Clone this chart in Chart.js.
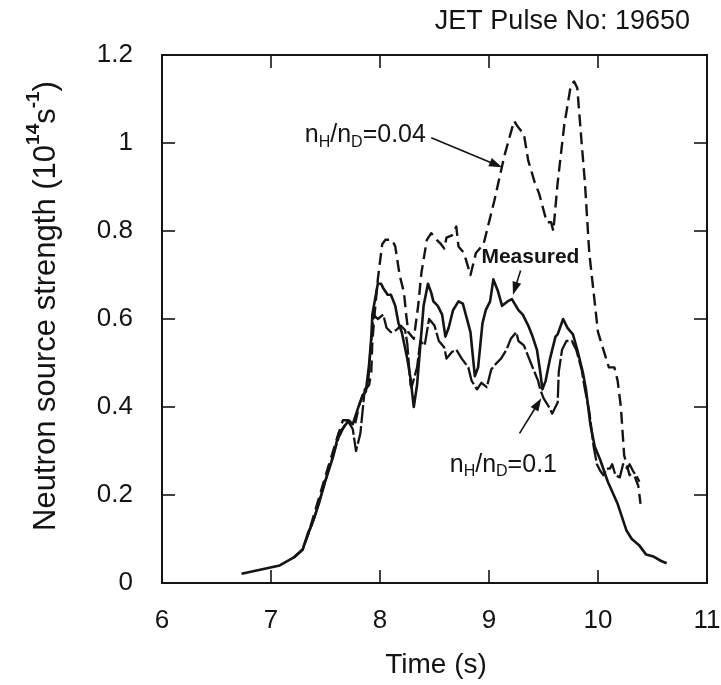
<!DOCTYPE html>
<html>
<head>
<meta charset="utf-8">
<title>JET Pulse No: 19650</title>
<script src="https://cdn.jsdelivr.net/npm/chart.js@4/dist/chart.umd.min.js"></script>
<style>
  html, body { margin: 0; padding: 0; background: #fff; }
  #wrap { width: 721px; height: 685px; position: relative; }
</style>
</head>
<body>
<div id="wrap"><canvas id="neutronChart"></canvas></div>
<script>
// measured neutron yield
const measuredTime = [6.73, 6.90, 7.08, 7.21, 7.29, 7.34, 7.38, 7.44, 7.50, 7.57, 7.62, 7.71, 7.75, 7.81, 7.85, 7.87,
  7.90, 7.92, 7.93, 7.98, 8.01, 8.03, 8.07, 8.10, 8.14, 8.17, 8.20, 8.25, 8.28, 8.31, 8.34, 8.37, 8.40, 8.44,
  8.47, 8.49, 8.53, 8.57, 8.60, 8.63, 8.67, 8.72, 8.76, 8.83, 8.87, 8.90, 8.94, 8.97, 9.01, 9.04, 9.08, 9.12,
  9.17, 9.21, 9.27, 9.31, 9.36, 9.40, 9.44, 9.47, 9.49, 9.52, 9.56, 9.61, 9.63, 9.68, 9.72, 9.77, 9.81, 9.86,
  9.89, 9.93, 9.97, 10.02, 10.09, 10.18, 10.26, 10.31, 10.38, 10.44, 10.51, 10.58, 10.63];
const measuredValue = [0.021, 0.030, 0.040, 0.058, 0.076, 0.114, 0.136, 0.181, 0.233, 0.287, 0.339, 0.368, 0.361, 0.406, 0.43, 0.435,
  0.497, 0.558, 0.61, 0.68, 0.68, 0.67, 0.655, 0.655, 0.63, 0.59, 0.57, 0.51, 0.465, 0.40, 0.45, 0.54, 0.63, 0.68,
  0.66, 0.64, 0.63, 0.61, 0.56, 0.58, 0.62, 0.64, 0.635, 0.57, 0.47, 0.49, 0.59, 0.62, 0.64, 0.69, 0.665, 0.63,
  0.64, 0.645, 0.62, 0.61, 0.585, 0.56, 0.53, 0.48, 0.44, 0.46, 0.51, 0.56, 0.565, 0.60, 0.58, 0.565, 0.53, 0.48,
  0.44, 0.36, 0.31, 0.28, 0.23, 0.18, 0.12, 0.10, 0.085, 0.065, 0.06, 0.05, 0.045];

// simulation nH/nD = 0.1
const ratio01Time = [7.21, 7.29, 7.34, 7.40, 7.46, 7.52, 7.57, 7.62, 7.70, 7.75, 7.78, 7.82, 7.86, 7.89, 7.91, 7.94,
  7.98, 8.03, 8.06, 8.10, 8.15, 8.19, 8.23, 8.25, 8.28, 8.29, 8.34, 8.37, 8.41, 8.45, 8.50, 8.54, 8.59, 8.61,
  8.66, 8.70, 8.75, 8.81, 8.84, 8.89, 8.93, 8.98, 9.02, 9.07, 9.11, 9.16, 9.20, 9.25, 9.27, 9.32, 9.36, 9.40,
  9.45, 9.47, 9.50, 9.55, 9.58, 9.63, 9.64, 9.67, 9.71, 9.76, 9.80, 9.85, 9.88, 9.92, 9.96, 9.99, 10.02, 10.05,
  10.08, 10.11, 10.13, 10.16, 10.20, 10.23, 10.27, 10.29, 10.32, 10.36, 10.38];
const ratio01Value = [0.058, 0.076, 0.11, 0.15, 0.20, 0.25, 0.29, 0.33, 0.37, 0.35, 0.30, 0.34, 0.44, 0.45, 0.52, 0.61,
  0.60, 0.61, 0.58, 0.57, 0.575, 0.585, 0.575, 0.545, 0.45, 0.445, 0.49, 0.55, 0.54, 0.60, 0.585, 0.55, 0.535, 0.51,
  0.525, 0.53, 0.51, 0.49, 0.46, 0.44, 0.455, 0.445, 0.485, 0.50, 0.51, 0.53, 0.555, 0.57, 0.55, 0.54, 0.515, 0.49,
  0.46, 0.44, 0.42, 0.40, 0.385, 0.41, 0.48, 0.53, 0.55, 0.55, 0.53, 0.485, 0.44, 0.39, 0.31, 0.27, 0.255, 0.245,
  0.26, 0.26, 0.27, 0.245, 0.24, 0.27, 0.26, 0.27, 0.255, 0.24, 0.23];

// simulation nH/nD = 0.04
const ratio004Time = [7.21, 7.29, 7.34, 7.40, 7.46, 7.52, 7.57, 7.62, 7.66, 7.71, 7.77, 7.81, 7.85, 7.90, 7.92, 7.93,
  7.95, 7.98, 8.02, 8.05, 8.11, 8.14, 8.18, 8.22, 8.24, 8.26, 8.31, 8.35, 8.38, 8.43, 8.47, 8.52, 8.56, 8.59,
  8.61, 8.66, 8.70, 8.72, 8.77, 8.83, 8.88, 8.95, 9.05, 9.14, 9.23, 9.27, 9.32, 9.36, 9.42, 9.46, 9.53, 9.57,
  9.59, 9.63, 9.69, 9.75, 9.78, 9.81, 9.85, 9.88, 9.92, 9.96, 10.00, 10.10, 10.15, 10.18, 10.21, 10.24, 10.29,
  10.31, 10.34, 10.37, 10.39];
const ratio004Value = [0.058, 0.076, 0.11, 0.16, 0.21, 0.26, 0.30, 0.34, 0.37, 0.37, 0.36, 0.405, 0.435, 0.45, 0.48, 0.55,
  0.61, 0.69, 0.77, 0.78, 0.78, 0.765, 0.70, 0.66, 0.61, 0.57, 0.555, 0.63, 0.705, 0.78, 0.795, 0.78, 0.77, 0.76,
  0.785, 0.79, 0.81, 0.765, 0.75, 0.70, 0.75, 0.77, 0.87, 0.97, 1.05, 1.035, 1.02, 0.96, 0.91, 0.885, 0.82, 0.82,
  0.80, 0.91, 1.04, 1.13, 1.14, 1.125, 1.00, 0.91, 0.75, 0.66, 0.57, 0.49, 0.49, 0.46, 0.40, 0.29, 0.245,
  0.25, 0.24, 0.22, 0.18];

const xTickValues = [7, 8, 9, 10];
const yTickValues = [0.2, 0.4, 0.6, 0.8, 1.0];

const INK = '#141414';
const FONT = "'Liberation Sans', Arial, Helvetica, sans-serif";

function toPoints(times, values) {
  return times.map((t, i) => ({ x: t, y: values[i] }));
}

function line(ctx, x1, y1, x2, y2) {
  ctx.beginPath();
  ctx.moveTo(x1, y1);
  ctx.lineTo(x2, y2);
  ctx.stroke();
}

function arrow(ctx, x1, y1, x2, y2) {
  const ang = Math.atan2(y2 - y1, x2 - x1);
  const len = 13, half = 4.5;
  line(ctx, x1, y1, x2 - Math.cos(ang) * len * 0.8, y2 - Math.sin(ang) * len * 0.8);
  ctx.beginPath();
  ctx.moveTo(x2, y2);
  ctx.lineTo(x2 - Math.cos(ang) * len + Math.sin(ang) * half, y2 - Math.sin(ang) * len - Math.cos(ang) * half);
  ctx.lineTo(x2 - Math.cos(ang) * len - Math.sin(ang) * half, y2 - Math.sin(ang) * len + Math.cos(ang) * half);
  ctx.closePath();
  ctx.fill();
}

// n_H/n_D=value, left aligned, vertically centred on y
function drawRatioLabel(ctx, x, y, value) {
  const parts = [
    { text: 'n', sub: false },
    { text: 'H', sub: true },
    { text: '/n', sub: false },
    { text: 'D', sub: true },
    { text: '=' + value, sub: false }
  ];
  ctx.textAlign = 'left';
  ctx.textBaseline = 'middle';
  let cx = x;
  parts.forEach(p => {
    ctx.font = p.sub ? `16px ${FONT}` : `25px ${FONT}`;
    ctx.fillText(p.text, cx, p.sub ? y + 7 : y);
    cx += ctx.measureText(p.text).width;
  });
}

// rotated axis title with superscripts
function drawYTitle(ctx, cx, cy) {
  const parts = [
    { text: 'Neutron source strength (10', sup: false },
    { text: '14', sup: true },
    { text: 's', sup: false },
    { text: '-1', sup: true },
    { text: ')', sup: false }
  ];
  const fontFor = p => p.sup ? `bold 19px ${FONT}` : `31px ${FONT}`;
  let total = 0;
  parts.forEach(p => { ctx.font = fontFor(p); total += ctx.measureText(p.text).width; });
  ctx.save();
  ctx.translate(cx, cy);
  ctx.rotate(-Math.PI / 2);
  ctx.textAlign = 'left';
  ctx.textBaseline = 'middle';
  let px = -total / 2;
  parts.forEach(p => {
    ctx.font = fontFor(p);
    ctx.fillText(p.text, px, p.sup ? -12 : 0);
    px += ctx.measureText(p.text).width;
  });
  ctx.restore();
}

const overlayPlugin = {
  id: 'overlay',
  afterDraw(chart) {
    const { ctx, chartArea: a, scales: { x, y } } = chart;
    ctx.save();
    ctx.strokeStyle = INK;
    ctx.fillStyle = INK;

    // frame
    ctx.lineWidth = 2;
    ctx.strokeRect(a.left, a.top, a.right - a.left, a.bottom - a.top);

    // inward ticks on all four sides
    ctx.lineWidth = 1.6;
    xTickValues.forEach(v => {
      const px = x.getPixelForValue(v);
      line(ctx, px, a.bottom, px, a.bottom - 13);
      line(ctx, px, a.top, px, a.top + 13);
    });
    yTickValues.forEach(v => {
      const py = y.getPixelForValue(v);
      line(ctx, a.left, py, a.left + 13, py);
      line(ctx, a.right, py, a.right - 13, py);
    });

    // curve labels and arrows
    drawRatioLabel(ctx, x.getPixelForValue(7.31), y.getPixelForValue(1.017), '0.04');
    ctx.lineWidth = 1.6;
    arrow(ctx, x.getPixelForValue(8.47), y.getPixelForValue(1.012), x.getPixelForValue(9.12), y.getPixelForValue(0.945));

    ctx.font = `bold 21px ${FONT}`;
    ctx.textAlign = 'center';
    ctx.textBaseline = 'middle';
    ctx.fillText('Measured', x.getPixelForValue(9.38), y.getPixelForValue(0.74));
    arrow(ctx, x.getPixelForValue(9.29), y.getPixelForValue(0.71), x.getPixelForValue(9.22), y.getPixelForValue(0.655));

    drawRatioLabel(ctx, x.getPixelForValue(8.64), y.getPixelForValue(0.268), '0.1');
    arrow(ctx, x.getPixelForValue(9.28), y.getPixelForValue(0.34), x.getPixelForValue(9.48), y.getPixelForValue(0.42));

    // titles
    ctx.font = `27px ${FONT}`;
    ctx.textAlign = 'right';
    ctx.fillText('JET Pulse No: 19650', 690, 22);
    ctx.textAlign = 'center';
    ctx.font = `28px ${FONT}`;
    ctx.fillText('Time (s)', 436, 665);
    drawYTitle(ctx, 46, 306);

    ctx.restore();
  }
};

document.addEventListener('DOMContentLoaded', function () {
  const ctx = document.getElementById('neutronChart');

  new Chart(ctx, {
    type: 'line',
    data: {
      datasets: [
        {
          label: 'Measured',
          data: toPoints(measuredTime, measuredValue),
          borderColor: INK,
          borderWidth: 2.6
        },
        {
          label: 'nH/nD=0.1',
          data: toPoints(ratio01Time, ratio01Value),
          borderColor: INK,
          borderWidth: 2.3,
          borderDash: [18, 3]
        },
        {
          label: 'nH/nD=0.04',
          data: toPoints(ratio004Time, ratio004Value),
          borderColor: INK,
          borderWidth: 2.4,
          borderDash: [12, 6]
        }
      ]
    },
    options: {
      responsive: true,
      maintainAspectRatio: false,
      animation: false,
      layout: { padding: { top: 55, right: 14, left: 0, bottom: 0 } },
      elements: {
        point: { radius: 0 },
        line: { tension: 0, fill: false, borderJoinStyle: 'round' }
      },
      plugins: {
        legend: { display: false },
        tooltip: { enabled: false }
      },
      scales: {
        x: {
          type: 'linear',
          min: 6,
          max: 11,
          afterFit: s => { s.height = 102; s.paddingLeft = 0; s.paddingRight = 0; },
          grid: { display: false },
          border: { display: false },
          ticks: {
            stepSize: 1,
            padding: 14,
            color: INK,
            font: { family: FONT, size: 26 }
          }
        },
        y: {
          min: 0,
          max: 1.2,
          afterFit: s => { s.width = 162; },
          grid: { display: false },
          border: { display: false },
          ticks: {
            stepSize: 0.2,
            padding: 21,
            color: INK,
            font: { family: FONT, size: 26 },
            callback: v => String(+v.toFixed(1))
          }
        }
      }
    },
    plugins: [overlayPlugin]
  });
});
</script>
</body>
</html>
